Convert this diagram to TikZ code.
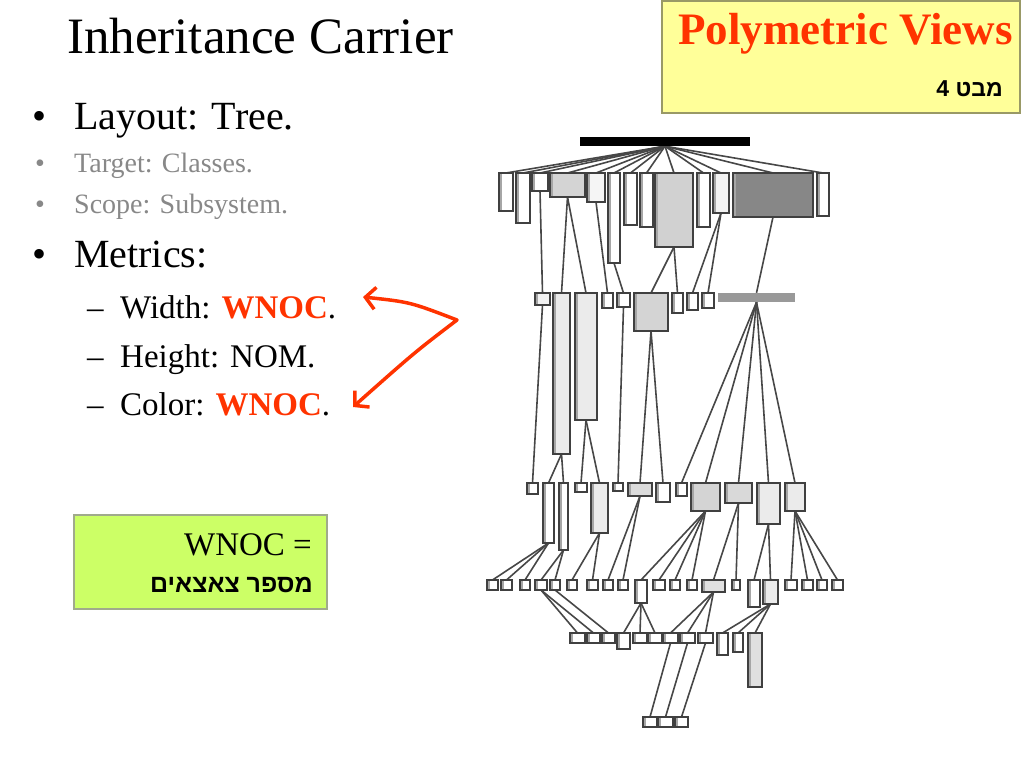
\documentclass[tikz,border=0pt]{standalone}
\usepackage{fontspec}
\setmainfont{Liberation Serif}
\newfontfamily\hebfont[Script=Hebrew]{Liberation Sans}
\TeXXeTstate=1
\usetikzlibrary{arrows.meta}
\pgfdeclarelayer{background}
\pgfsetlayers{background,main}
\definecolor{hot}{RGB}{255,51,0}
\definecolor{paleyel}{RGB}{255,255,153}
\definecolor{yelbord}{RGB}{153,153,102}
\definecolor{limefill}{RGB}{204,255,102}
\definecolor{limebord}{RGB}{160,170,140}
\definecolor{dim}{RGB}{136,136,136}
\tikzset{
 cls/.style={draw=black!75, line width=1.6pt, inner sep=0pt, outer sep=0pt,
   path picture={\fill[black!35] (path picture bounding box.south west) rectangle ([xshift=2.5pt]path picture bounding box.north west);}},
 lnk/.style={draw=black!72, line width=1.6pt},
 txt/.style={anchor=base west, inner sep=0pt},
 rtxt/.style={anchor=base east, inner sep=0pt},
}
\newcommand\mkbox[6]{\node[cls, fill=#6, minimum width={(#4-#2)*1pt}, minimum height={(#5-#3)*1pt}] (#1) at ({(#2+#4)/2},{(#3+#5)/2}) {};}
\begin{document}
\begin{tikzpicture}[x=1pt,y=-1pt]
\useasboundingbox (0,0) rectangle (1024,768);

% ---------- title and bullets ----------
\node[txt, font=\fontsize{51}{60}\selectfont] (title) at (67,53) {Inheritance Carrier};
\node[txt, font=\fontsize{40}{48}\selectfont] (bu1) at (32,129) {•};
\node[txt, font=\fontsize{40}{48}\selectfont] (t1) at (74,129) {Layout: Tree.};
\node[txt, text=dim, font=\fontsize{28}{34}\selectfont] (bu2) at (35,172) {•};
\node[txt, text=dim, font=\fontsize{28}{34}\selectfont] (t2) at (74,172) {Target: Classes.};
\node[txt, text=dim, font=\fontsize{28}{34}\selectfont] (bu3) at (35,213) {•};
\node[txt, text=dim, font=\fontsize{28}{34}\selectfont] (t3) at (74,213) {Scope: Subsystem.};
\node[txt, font=\fontsize{40}{48}\selectfont] (bu4) at (32,267) {•};
\node[txt, font=\fontsize{40}{48}\selectfont] (t4) at (74,267) {Metrics:};
\node[txt, font=\fontsize{33}{40}\selectfont] (d1s) at (87,318) {–};
\node[txt, font=\fontsize{33}{40}\selectfont] (s1) at (120,318) {Width: {\bfseries\color{hot}WNOC}.};
\node[txt, font=\fontsize{33}{40}\selectfont] (d2s) at (87,367) {–};
\node[txt, font=\fontsize{33}{40}\selectfont] (s2) at (120,367) {Height: NOM.};
\node[txt, font=\fontsize{33}{40}\selectfont] (d3s) at (87,415) {–};
\node[txt, font=\fontsize{33}{40}\selectfont] (s3) at (120,415) {Color: {\bfseries\color{hot}WNOC}.};

% ---------- red arrow ----------
\coordinate (aw) at (363,297);
\coordinate (ak) at (457,320);
\coordinate (ac) at (353,407);
\draw[hot, line width=3.5pt, line join=round,
  {Straight Barb[length=10pt,width=22pt]}-{Straight Barb[length=10pt,width=22pt]}]
  (aw) .. controls (410,302) .. (ak) .. controls (415,352) .. (ac);

% ---------- yellow box ----------
\node[draw=yelbord, fill=paleyel, line width=1.5pt, minimum width=358pt, minimum height=112pt, inner sep=0pt] (pv) at (841,57) {};
\node[rtxt, text=hot, font=\fontsize{45}{54}\selectfont\bfseries] (pvt) at (1013,45) {Polymetric Views};
\node[rtxt, font=\hebfont\fontsize{23}{26}\selectfont\bfseries] (pvh) at (1003,96) {\beginR מבט 4\endR};

% ---------- green box ----------
\node[draw=limebord, fill=limefill, line width=1.2pt, minimum width=253pt, minimum height=94pt, inner sep=0pt] (gb) at (200.5,562) {};
\node[rtxt, font=\fontsize{33}{40}\selectfont] (gbt) at (312,555) {WNOC =};
\node[rtxt, font=\hebfont\fontsize{25}{28}\selectfont\bfseries] (gbh) at (313,592) {\beginR מספר צאצאים\endR};

% ---------- tree: level 0 ----------
\node[fill=black, inner sep=0pt, minimum width=170pt, minimum height=9pt] (r0) at (665,141.5) {};
% level 1
\mkbox{a1}{499}{173}{513}{211}{white}
\mkbox{a2}{516}{173}{530}{223}{white}
\mkbox{a3}{532}{173}{548}{191}{white}
\mkbox{a4}{550}{173}{585}{197}{black!17}
\mkbox{a5}{587}{173}{605}{202}{black!4}
\mkbox{a6}{608}{173}{620}{263}{white}
\mkbox{a7}{624}{173}{637}{225}{white}
\mkbox{a8}{640}{173}{653}{227}{white}
\mkbox{a9}{655}{173}{693}{247}{black!18}
\mkbox{a10}{697}{173}{710}{227}{white}
\mkbox{a11}{713}{173}{729}{213}{black!5}
\mkbox{a12}{733}{173}{813}{217}{black!47}
\mkbox{a13}{817}{173}{829}{216}{white}
% level 2
\mkbox{b1}{535}{293}{550}{305}{black!5}
\mkbox{b2}{553}{293}{570}{454}{black!8}
\mkbox{b3}{575}{293}{597}{420}{black!8}
\mkbox{b4}{602}{293}{613}{308}{white}
\mkbox{b5}{617}{293}{630}{307}{white}
\mkbox{b6}{634}{293}{668}{331}{black!17}
\mkbox{b7}{672}{293}{683}{313}{white}
\mkbox{b8}{687}{293}{698}{310}{white}
\mkbox{b9}{702}{293}{714}{308}{white}
\node[fill=black!40, inner sep=0pt, minimum width=77pt, minimum height=9pt] (b10) at (756.5,297.5) {};
% level 3
\mkbox{c1}{527}{483}{538}{494}{white}
\mkbox{c2}{543}{483}{554}{543}{white}
\mkbox{c3}{559}{483}{568}{550}{white}
\mkbox{c4}{575}{483}{587}{492}{white}
\mkbox{c5}{591}{483}{608}{533}{black!8}
\mkbox{c6}{613}{483}{623}{491}{white}
\mkbox{c7}{628}{483}{652}{496}{black!14}
\mkbox{c8}{656}{483}{670}{502}{white}
\mkbox{c9}{676}{483}{687}{496}{white}
\mkbox{c10}{691}{483}{720}{511}{black!17}
\mkbox{c11}{725}{483}{752}{503}{black!15}
\mkbox{c12}{757}{483}{780}{524}{black!8}
\mkbox{c13}{785}{483}{805}{511}{black!8}
% level 4
\mkbox{d1}{487}{580}{498}{590}{white}
\mkbox{d2}{501}{580}{512}{590}{white}
\mkbox{d3}{520}{580}{530}{590}{white}
\mkbox{d4}{535}{580}{547}{590}{white}
\mkbox{d5}{550}{580}{560}{590}{white}
\mkbox{d6}{567}{580}{577}{590}{white}
\mkbox{d7}{587}{580}{598}{590}{white}
\mkbox{d8}{603}{580}{613}{590}{white}
\mkbox{d9}{618}{580}{628}{590}{white}
\mkbox{d10}{635}{580}{647}{603}{white}
\mkbox{d11}{653}{580}{665}{590}{white}
\mkbox{d12}{670}{580}{680}{590}{white}
\mkbox{d13}{687}{580}{697}{590}{white}
\mkbox{d14}{702}{580}{725}{592}{black!12}
\mkbox{d15}{732}{580}{740}{590}{white}
\mkbox{d16}{748}{580}{760}{607}{white}
\mkbox{d17}{763}{580}{778}{604}{black!8}
\mkbox{d18}{785}{580}{797}{590}{white}
\mkbox{d19}{802}{580}{813}{590}{white}
\mkbox{d20}{817}{580}{827}{590}{white}
\mkbox{d21}{832}{580}{843}{590}{white}
% level 5
\mkbox{e1}{570}{633}{585}{643}{white}
\mkbox{e2}{587}{633}{600}{643}{white}
\mkbox{e3}{602}{633}{615}{643}{white}
\mkbox{e4}{617}{633}{630}{649}{white}
\mkbox{e5}{633}{633}{647}{643}{white}
\mkbox{e6}{648}{633}{662}{643}{white}
\mkbox{e7}{663}{633}{678}{643}{white}
\mkbox{e8}{680}{633}{695}{643}{white}
\mkbox{e9}{698}{633}{713}{643}{white}
\mkbox{e10}{717}{633}{728}{655}{white}
\mkbox{e11}{733}{633}{743}{652}{white}
\mkbox{e12}{748}{633}{762}{687}{black!12}
% level 6
\mkbox{f1}{643}{717}{657}{727}{white}
\mkbox{f2}{658}{717}{673}{727}{white}
\mkbox{f3}{675}{717}{688}{727}{white}

% ---------- connectors ----------
\begin{pgfonlayer}{background}
\foreach \p/\c in {r0/a1,r0/a2,r0/a3,r0/a4,r0/a5,r0/a6,r0/a7,r0/a8,r0/a9,r0/a10,r0/a11,r0/a12,r0/a13,
  a3/b1,a4/b2,a4/b3,a5/b4,a6/b5,a9/b6,a9/b7,a11/b8,a11/b9,a12/b10,
  b1/c1,b2/c2,b2/c3,b3/c4,b3/c5,b5/c6,b6/c7,b6/c8,b10/c9,b10/c10,b10/c11,b10/c12,b10/c13,
  c2/d1,c2/d2,c2/d3,c3/d4,c3/d5,c5/d6,c5/d7,c7/d8,c7/d9,
  c10/d10,c10/d11,c10/d12,c10/d13,c11/d14,c11/d15,c12/d16,c12/d17,
  c13/d18,c13/d19,c13/d20,c13/d21,
  d4/e1,d4/e2,d5/e3,d10/e4,d10/e5,d10/e6,d14/e7,d14/e8,d14/e9,d17/e10,d17/e11,d17/e12,
  e7/f1,e8/f2,e9/f3}
  \draw[lnk] (\p.south) -- (\c.north);
\end{pgfonlayer}
\end{tikzpicture}
\end{document}
